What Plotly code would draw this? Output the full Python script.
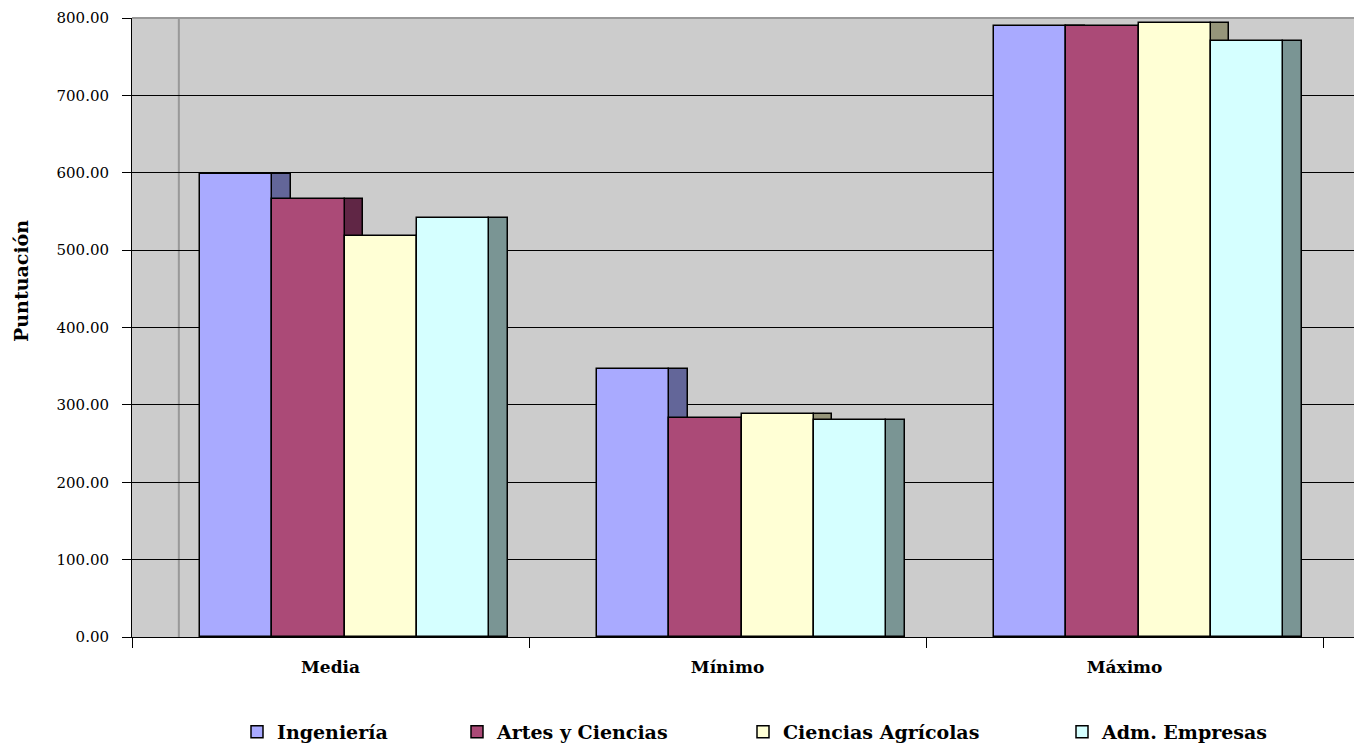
import plotly.graph_objects as go

categories = ["Media", "Mínimo", "Máximo"]
series_names = ["Ingeniería", "Artes y Ciencias", "Ciencias Agrícolas", "Adm. Empresas"]
ingenieria = [598, 347, 790]
artes = [566, 283, 790]
agricolas = [518, 288, 793]
empresas = [541, 281, 770]
series_values = [ingenieria, artes, agricolas, empresas]
y_ticks = [0, 100, 200, 300, 400, 500, 600, 700, 800]

front_colors = ["#A9AAFF", "#AB4A77", "#FFFFD5", "#D5FFFF"]
side_colors = ["#636699", "#602645", "#96957A", "#7A9594"]

FONT = "DejaVu Serif"
BAR_W = 0.182
START = -0.3287
DEPTH = 0.0466
WALL = 0.118

# page offset of the plot div (default body margin)
OFF = 8
W, H = 1362 - OFF, 746 - OFF
PL, PR, PT, PB = 132, 1360, 18, 637  # plot area in page px

xpos = list(range(len(categories)))
fig = go.Figure()

# side faces (3D depth) drawn first
for i, (name, vals) in enumerate(zip(series_names, series_values)):
    fig.add_trace(go.Bar(
        x=xpos, y=vals, name=name, legendgroup=name, showlegend=False,
        offset=START + (i + 1) * BAR_W, width=DEPTH,
        marker=dict(color=side_colors[i], line=dict(color="black", width=1.5)),
        hoverinfo="skip",
    ))

legend_ids = ["legend", "legend2", "legend3", "legend4"]
for i, (name, vals) in enumerate(zip(series_names, series_values)):
    fig.add_trace(go.Bar(
        x=xpos, y=vals, name=name, legendgroup=name,
        offset=START + i * BAR_W, width=BAR_W,
        marker=dict(color=front_colors[i], line=dict(color="black", width=1.5)),
        legend=legend_ids[i],
    ))

# legend text start positions (page px) and vertical center
legend_text_x = [277, 497, 783, 1102]
legend_y = 732
leg_common = dict(
    xref="container", yref="container", xanchor="left", yanchor="middle",
    bgcolor="rgba(0,0,0,0)",
    font=dict(family=FONT, size=19, color="black", weight="bold"),
    orientation="h",
)
layout_legends = {}
for lid, tx in zip(legend_ids, legend_text_x):
    layout_legends[lid] = dict(x=(tx - OFF - 40) / W, y=1 - (legend_y - OFF) / H, **leg_common)

fig.update_layout(
    width=W, height=H,
    margin=dict(l=PL - OFF, r=W - (PR - OFF), t=PT - OFF, b=H - (PB - OFF), autoexpand=False),
    paper_bgcolor="white", plot_bgcolor="#CCCCCC",
    barmode="overlay", bargap=0,
    font=dict(family=FONT, color="black"),
    **layout_legends,
)

fig.update_xaxes(
    range=[-0.5, 2.593], tickmode="array", tickvals=xpos, ticktext=categories,
    ticks="", showgrid=False, zeroline=False,
    showline=True, linecolor="black", linewidth=1,
    tickfont=dict(family=FONT, size=17, color="black", weight="bold"),
    ticklabelstandoff=15,
    minor=dict(tickmode="array", tickvals=[-0.5, 0.5, 1.5, 2.5], ticks="outside",
               ticklen=10, tickcolor="black", tickwidth=1, showgrid=False),
)
fig.update_yaxes(
    range=[0, 800], tickmode="array", tickvals=y_ticks,
    ticktext=[f"{v:.2f}" for v in y_ticks],
    ticks="outside", ticklen=9, tickcolor="black",
    showgrid=True, gridcolor="black", gridwidth=1,
    zeroline=False, showline=True, linecolor="black", linewidth=1,
    tickfont=dict(family=FONT, size=15, color="black"),
    ticklabelstandoff=10,
)

# back-wall corner line
fig.add_shape(type="line", xref="x", yref="paper", x0=-0.5 + WALL, x1=-0.5 + WALL,
              y0=0, y1=1, line=dict(color="#999999", width=2), layer="below")
# top border of wall
fig.add_shape(type="line", xref="paper", yref="paper", x0=0, x1=1, y0=1, y1=1,
              line=dict(color="#999999", width=2), layer="below")

fig.add_annotation(
    text="<b>Puntuación</b>", textangle=-90, showarrow=False,
    xref="paper", yref="paper", x=(21 - PL) / (PR - PL), y=(PB - 281) / (PB - PT),
    xanchor="center", yanchor="middle",
    font=dict(family=FONT, size=19, color="black"),
)

fig.write_html("out.html")
